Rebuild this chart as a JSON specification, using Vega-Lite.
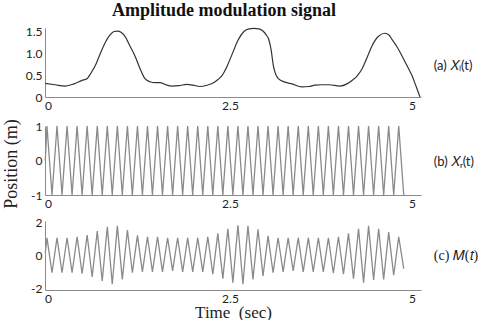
{
  "$schema": "https://vega.github.io/schema/vega-lite/v6.json",
  "padding": {"left": 2, "top": 2, "right": 0, "bottom": 0},
  "background": "white",
  "title": {"text": "Amplitude modulation signal", "font": "Liberation Serif", "fontSize": 18, "fontWeight": "bold", "color": "#111", "anchor": "middle", "offset": 5, "dx": -16},
  "spacing": 7,
  "config": {
    "view": {"stroke": null},
    "axis": {"grid": false, "ticks": false, "domainColor": "#8a8a8a", "labelFont": "Lato", "labelFontSize": 12, "labelColor": "#222", "labelPadding": 3}
  },
  "datasets": {
    "xl": [
      {"t": -0.037, "v": 0.31}, {"t": 0.096, "v": 0.28}, {"t": 0.238, "v": 0.25}, {"t": 0.357, "v": 0.30},
      {"t": 0.467, "v": 0.38}, {"t": 0.536, "v": 0.42}, {"t": 0.591, "v": 0.55}, {"t": 0.650, "v": 0.72},
      {"t": 0.714, "v": 0.98}, {"t": 0.787, "v": 1.25}, {"t": 0.852, "v": 1.42}, {"t": 0.907, "v": 1.50},
      {"t": 0.962, "v": 1.51}, {"t": 1.003, "v": 1.48}, {"t": 1.058, "v": 1.39}, {"t": 1.126, "v": 1.17},
      {"t": 1.195, "v": 0.94}, {"t": 1.264, "v": 0.65}, {"t": 1.332, "v": 0.42}, {"t": 1.401, "v": 0.35},
      {"t": 1.470, "v": 0.33}, {"t": 1.538, "v": 0.33}, {"t": 1.621, "v": 0.28}, {"t": 1.703, "v": 0.25},
      {"t": 1.799, "v": 0.26}, {"t": 1.909, "v": 0.29}, {"t": 1.992, "v": 0.27}, {"t": 2.088, "v": 0.24},
      {"t": 2.184, "v": 0.27}, {"t": 2.280, "v": 0.33}, {"t": 2.335, "v": 0.40}, {"t": 2.390, "v": 0.49},
      {"t": 2.459, "v": 0.70}, {"t": 2.527, "v": 0.97}, {"t": 2.610, "v": 1.30}, {"t": 2.692, "v": 1.50},
      {"t": 2.761, "v": 1.56}, {"t": 2.830, "v": 1.57}, {"t": 2.898, "v": 1.56}, {"t": 2.953, "v": 1.51},
      {"t": 2.995, "v": 1.43}, {"t": 3.036, "v": 1.30}, {"t": 3.064, "v": 1.09}, {"t": 3.096, "v": 0.72},
      {"t": 3.164, "v": 0.42}, {"t": 3.255, "v": 0.34}, {"t": 3.352, "v": 0.30}, {"t": 3.489, "v": 0.23},
      {"t": 3.585, "v": 0.24}, {"t": 3.668, "v": 0.27}, {"t": 3.764, "v": 0.28}, {"t": 3.860, "v": 0.28},
      {"t": 4.011, "v": 0.25}, {"t": 4.107, "v": 0.30}, {"t": 4.176, "v": 0.38}, {"t": 4.245, "v": 0.48},
      {"t": 4.313, "v": 0.64}, {"t": 4.382, "v": 0.90}, {"t": 4.451, "v": 1.17}, {"t": 4.533, "v": 1.38},
      {"t": 4.629, "v": 1.46}, {"t": 4.684, "v": 1.42}, {"t": 4.725, "v": 1.32}, {"t": 4.794, "v": 1.15},
      {"t": 4.863, "v": 0.94}, {"t": 4.931, "v": 0.72}, {"t": 5.000, "v": 0.49}, {"t": 5.055, "v": 0.25},
      {"t": 5.110, "v": 0.0}
    ],
    "xr": [
      {"t": -0.037, "v": 0},
      {"t": -0.014, "v": 1}, {"t": 0.055, "v": -1}, {"t": 0.124, "v": 1}, {"t": 0.193, "v": -1},
      {"t": 0.262, "v": 1}, {"t": 0.331, "v": -1}, {"t": 0.400, "v": 1}, {"t": 0.469, "v": -1},
      {"t": 0.538, "v": 1}, {"t": 0.607, "v": -1}, {"t": 0.677, "v": 1}, {"t": 0.745, "v": -1},
      {"t": 0.815, "v": 1}, {"t": 0.883, "v": -1}, {"t": 0.953, "v": 1}, {"t": 1.021, "v": -1},
      {"t": 1.091, "v": 1}, {"t": 1.159, "v": -1}, {"t": 1.229, "v": 1}, {"t": 1.297, "v": -1},
      {"t": 1.367, "v": 1}, {"t": 1.435, "v": -1}, {"t": 1.505, "v": 1}, {"t": 1.573, "v": -1},
      {"t": 1.643, "v": 1}, {"t": 1.712, "v": -1}, {"t": 1.781, "v": 1}, {"t": 1.850, "v": -1},
      {"t": 1.919, "v": 1}, {"t": 1.988, "v": -1}, {"t": 2.057, "v": 1}, {"t": 2.126, "v": -1},
      {"t": 2.195, "v": 1}, {"t": 2.264, "v": -1}, {"t": 2.333, "v": 1}, {"t": 2.402, "v": -1},
      {"t": 2.471, "v": 1}, {"t": 2.540, "v": -1}, {"t": 2.609, "v": 1}, {"t": 2.678, "v": -1},
      {"t": 2.747, "v": 1}, {"t": 2.816, "v": -1}, {"t": 2.885, "v": 1}, {"t": 2.954, "v": -1},
      {"t": 3.023, "v": 1}, {"t": 3.092, "v": -1}, {"t": 3.161, "v": 1}, {"t": 3.230, "v": -1},
      {"t": 3.299, "v": 1}, {"t": 3.368, "v": -1}, {"t": 3.438, "v": 1}, {"t": 3.506, "v": -1},
      {"t": 3.576, "v": 1}, {"t": 3.644, "v": -1}, {"t": 3.714, "v": 1}, {"t": 3.782, "v": -1},
      {"t": 3.852, "v": 1}, {"t": 3.920, "v": -1}, {"t": 3.990, "v": 1}, {"t": 4.059, "v": -1},
      {"t": 4.128, "v": 1}, {"t": 4.197, "v": -1}, {"t": 4.266, "v": 1}, {"t": 4.335, "v": -1},
      {"t": 4.404, "v": 1}, {"t": 4.473, "v": -1}, {"t": 4.542, "v": 1}, {"t": 4.611, "v": -1},
      {"t": 4.680, "v": 1}, {"t": 4.749, "v": -1}, {"t": 4.818, "v": 1}, {"t": 4.887, "v": -1}
    ],
    "m": [
      {"t": -0.037, "v": 0.15},
      {"t": -0.014, "v": 1.08}, {"t": 0.055, "v": -1.05}, {"t": 0.124, "v": 1.08}, {"t": 0.193, "v": -1.05},
      {"t": 0.262, "v": 1.08}, {"t": 0.331, "v": -1.05}, {"t": 0.400, "v": 1.14}, {"t": 0.469, "v": -1.11},
      {"t": 0.538, "v": 1.25}, {"t": 0.607, "v": -1.31}, {"t": 0.677, "v": 1.49}, {"t": 0.745, "v": -1.55},
      {"t": 0.815, "v": 1.75}, {"t": 0.883, "v": -1.75}, {"t": 0.953, "v": 1.80}, {"t": 1.021, "v": -1.45},
      {"t": 1.091, "v": 1.55}, {"t": 1.159, "v": -1.05}, {"t": 1.229, "v": 1.23}, {"t": 1.297, "v": -1.0},
      {"t": 1.367, "v": 1.14}, {"t": 1.435, "v": -1.0}, {"t": 1.505, "v": 1.14}, {"t": 1.573, "v": -1.0},
      {"t": 1.643, "v": 1.08}, {"t": 1.712, "v": -0.94}, {"t": 1.781, "v": 1.08}, {"t": 1.850, "v": -1.0},
      {"t": 1.919, "v": 1.08}, {"t": 1.988, "v": -1.0}, {"t": 2.057, "v": 1.08}, {"t": 2.126, "v": -1.0},
      {"t": 2.195, "v": 1.14}, {"t": 2.264, "v": -1.14}, {"t": 2.333, "v": 1.35}, {"t": 2.402, "v": -1.41},
      {"t": 2.471, "v": 1.63}, {"t": 2.540, "v": -1.65}, {"t": 2.609, "v": 1.84}, {"t": 2.678, "v": -1.75},
      {"t": 2.747, "v": 1.80}, {"t": 2.816, "v": -1.45}, {"t": 2.885, "v": 1.60}, {"t": 2.954, "v": -1.25},
      {"t": 3.023, "v": 1.19}, {"t": 3.092, "v": -1.05}, {"t": 3.161, "v": 1.08}, {"t": 3.230, "v": -1.0},
      {"t": 3.299, "v": 1.08}, {"t": 3.368, "v": -0.94}, {"t": 3.438, "v": 1.08}, {"t": 3.506, "v": -1.0},
      {"t": 3.576, "v": 1.08}, {"t": 3.644, "v": -1.0}, {"t": 3.714, "v": 1.08}, {"t": 3.782, "v": -1.0},
      {"t": 3.852, "v": 1.08}, {"t": 3.920, "v": -1.08}, {"t": 3.990, "v": 1.14}, {"t": 4.059, "v": -1.14},
      {"t": 4.128, "v": 1.35}, {"t": 4.197, "v": -1.41}, {"t": 4.266, "v": 1.63}, {"t": 4.335, "v": -1.65},
      {"t": 4.404, "v": 1.80}, {"t": 4.473, "v": -1.49}, {"t": 4.542, "v": 1.63}, {"t": 4.611, "v": -1.45},
      {"t": 4.680, "v": 1.42}, {"t": 4.749, "v": -1.2}, {"t": 4.818, "v": 1.14}, {"t": 4.887, "v": -0.8}
    ],
    "labels": [
      {"panel": "a", "label": "(a) 𝑋ₗ(t)"},
      {"panel": "b", "label": "(b) 𝑋ᵣ(t)"},
      {"panel": "c", "label": "(c) 𝑀(𝑡)"}
    ]
  },
  "vconcat": [
    {
      "width": 376, "height": 69,
      "layer": [
        {"data": {"name": "xl"}, "mark": {"type": "line", "color": "#333", "strokeWidth": 1.2, "interpolate": "monotone"},
         "encoding": {
          "x": {"field": "t", "type": "quantitative", "scale": {"domain": [-0.041, 5.124], "nice": false, "zero": false}, "axis": {"values": [0, 2.5, 5], "labelExpr": "'' + datum.value", "title": null, "labelFlush": false}},
          "y": {"field": "v", "type": "quantitative", "scale": {"domain": [0, 1.58], "nice": false}, "axis": {"values": [0, 0.5, 1, 1.5], "labelExpr": "datum.value == 0 ? '0' : format(datum.value, '.1f')", "title": null}}
         }},
        {"data": {"name": "labels"}, "transform": [{"filter": "datum.panel == 'a'"}],
         "mark": {"type": "text", "align": "left", "baseline": "middle", "font": "Lato", "fontSize": 13, "color": "#222"},
         "encoding": {
          "x": {"datum": 5.3, "type": "quantitative", "axis": {"values": [0, 2.5, 5], "labelExpr": "'' + datum.value", "title": null, "labelFlush": false}},
          "y": {"datum": 0.7, "type": "quantitative", "axis": {"values": [0, 0.5, 1, 1.5], "labelExpr": "datum.value == 0 ? '0' : format(datum.value, '.1f')", "title": null}},
          "text": {"field": "label"}}}
      ]
    },
    {
      "width": 376, "height": 69,
      "layer": [
        {"data": {"name": "xr"}, "mark": {"type": "line", "color": "#8a8a8a", "strokeWidth": 1.3},
         "encoding": {
          "x": {"field": "t", "type": "quantitative", "scale": {"domain": [-0.041, 5.124], "nice": false, "zero": false}, "axis": {"values": [0, 2.5, 5], "labelExpr": "'' + datum.value", "title": null, "labelFlush": false}},
          "y": {"field": "v", "type": "quantitative", "scale": {"domain": [-1, 1], "nice": false}, "axis": {"values": [-1, 0, 1], "labelExpr": "'' + datum.value", "title": "Position (m)", "titleFont": "Liberation Serif", "titleFontSize": 18, "titleFontWeight": "normal", "titleColor": "#222", "titleAngle": -90, "titleAlign": "center", "titleBaseline": "middle", "titleX": -34, "titleY": 37.5}}
         }},
        {"data": {"name": "labels"}, "transform": [{"filter": "datum.panel == 'b'"}],
         "mark": {"type": "text", "align": "left", "baseline": "middle", "font": "Lato", "fontSize": 13, "color": "#222"},
         "encoding": {
          "x": {"datum": 5.3, "type": "quantitative", "axis": {"values": [0, 2.5, 5], "labelExpr": "'' + datum.value", "title": null, "labelFlush": false}},
          "y": {"datum": -0.05, "type": "quantitative", "axis": {"values": [-1, 0, 1], "labelExpr": "'' + datum.value", "title": "Position (m)", "titleFont": "Liberation Serif", "titleFontSize": 18, "titleFontWeight": "normal", "titleColor": "#222", "titleAngle": -90, "titleAlign": "center", "titleBaseline": "middle", "titleX": -34, "titleY": 37.5}},
          "text": {"field": "label"}}}
      ]
    },
    {
      "width": 376, "height": 69,
      "layer": [
        {"data": {"name": "m"}, "mark": {"type": "line", "color": "#8a8a8a", "strokeWidth": 1.3},
         "encoding": {
          "x": {"field": "t", "type": "quantitative", "scale": {"domain": [-0.041, 5.124], "nice": false, "zero": false}, "axis": {"values": [0, 2.5, 5], "labelExpr": "'' + datum.value", "labelFlush": false, "title": "Time\u00a0\u00a0(sec)", "titleFont": "Liberation Serif", "titleFontSize": 17, "titleFontWeight": "normal", "titleColor": "#222", "titleBaseline": "middle", "titleY": 22}},
          "y": {"field": "v", "type": "quantitative", "scale": {"domain": [-2.1, 2.1], "nice": false}, "axis": {"values": [-2, 0, 2], "labelExpr": "'' + datum.value", "title": null}}
         }},
        {"data": {"name": "labels"}, "transform": [{"filter": "datum.panel == 'c'"}],
         "mark": {"type": "text", "align": "left", "baseline": "middle", "font": "Liberation Serif", "fontSize": 14, "color": "#222"},
         "encoding": {
          "x": {"datum": 5.3, "type": "quantitative", "axis": {"values": [0, 2.5, 5], "labelExpr": "'' + datum.value", "labelFlush": false, "title": "Time\u00a0\u00a0(sec)", "titleFont": "Liberation Serif", "titleFontSize": 17, "titleFontWeight": "normal", "titleColor": "#222", "titleBaseline": "middle", "titleY": 22}},
          "y": {"datum": 0, "type": "quantitative", "axis": {"values": [-2, 0, 2], "labelExpr": "'' + datum.value", "title": null}},
          "text": {"field": "label"}}}
      ]
    }
  ]
}
